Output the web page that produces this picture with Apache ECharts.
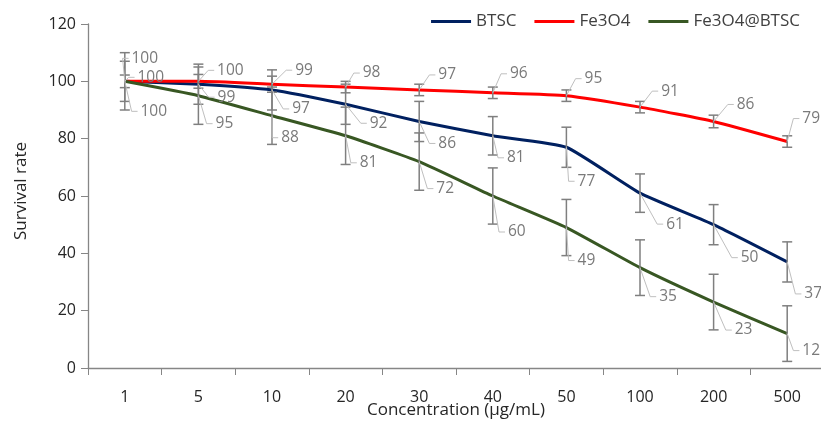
<!DOCTYPE html>
<html>
<head>
<meta charset="utf-8">
<script src="https://cdn.jsdelivr.net/npm/echarts@6/dist/echarts.min.js"></script>
<style>html,body{margin:0;padding:0;background:#fff;}#c{width:821px;height:423px;}</style>
</head>
<body>
<div id="c"></div>
<script>
// ---- data ----
const categories = ['1', '5', '10', '20', '30', '40', '50', '100', '200', '500'];
const btsc = [100, 99, 97, 92, 86, 81, 77, 61, 50, 37];
const fe3o4 = [100, 100, 99, 98, 97, 96, 95, 91, 86, 79];
const fe3o4Btsc = [100, 95, 88, 81, 72, 60, 49, 35, 23, 12];
const btscErr = [7, 7, 7, 7, 7, 6.7, 7, 6.7, 7, 7];
const fe3o4Err = [2.2, 2.4, 2.8, 2, 2, 2, 2, 2, 2.2, 2];
const fe3o4BtscErr = [10, 10, 10, 10, 10, 9.8, 9.8, 9.7, 9.7, 9.7];
const yMin = 0, yMax = 120, yStep = 20;
const xTitle = 'Concentration (μg/mL)';
const yTitle = 'Survival rate';

// ---- label placement (style, pixel offsets from point) ----
const fe3o4LabelOff = [[20,-23],[32,-11],[32,-14],[26,-14],[28,-15],[26,-19],[27,-17],[30,-16],[32,-17],[24,-23]];
const btscLabelOff = [[26,-4],[28,13],[29,19],[33,19],[28,22],[23,22],[20,34],[35,31],[36,33],[26,32]];
const fe3o4BtscLabelOff = [[29,30],[26,28],[18,22],[23,27],[26,27],[24,36],[20,33],[28,29],[30,28],[24,17]];

const COL_BLUE = '#002060', COL_RED = '#FF0000', COL_GREEN = '#385723';
const ERR_COL = '#7f7f7f', LBL_COL = '#7a7a7a', LEAD_COL = '#bfbfbf';

function errSeries(values, errs) {
  return {
    type: 'custom', z: 5, silent: true,
    data: values.map((v, i) => [i, v - errs[i], v + errs[i]]),
    renderItem: function (params, api) {
      const lo = api.coord([api.value(0), api.value(1)]);
      const hi = api.coord([api.value(0), api.value(2)]);
      const w = 5;
      const st = { stroke: ERR_COL, lineWidth: 1.5 };
      return { type: 'group', children: [
        { type: 'line', shape: { x1: lo[0], y1: lo[1], x2: hi[0], y2: hi[1] }, style: st },
        { type: 'line', shape: { x1: lo[0] - w, y1: lo[1], x2: lo[0] + w, y2: lo[1] }, style: st },
        { type: 'line', shape: { x1: hi[0] - w, y1: hi[1], x2: hi[0] + w, y2: hi[1] }, style: st }
      ]};
    }
  };
}

function labelSeries(values, offs) {
  return {
    type: 'custom', z: 6, silent: true,
    data: values.map((v, i) => [i, v]),
    renderItem: function (params, api) {
      const i = params.dataIndex;
      const p = api.coord([api.value(0), api.value(1)]);
      const o = offs[i];
      const txt = String(api.value(1));
      const lx = p[0] + o[0], ly = p[1] + o[1];
      const hw = txt.length * 4.4;
      const children = [{
        type: 'text',
        style: { text: txt, x: lx, y: ly, align: 'center', verticalAlign: 'middle',
                 fill: LBL_COL, font: '15.5px "Open Sans", sans-serif' }
      }];
      const dist = Math.hypot(o[0], o[1]);
      if (dist > 24) {
        const ex = lx - hw - 3;
        children.push({
          type: 'polyline',
          shape: { points: [[p[0], p[1]], [ex - 6, ly], [ex, ly]] },
          style: { stroke: LEAD_COL, lineWidth: 1, fill: null }
        });
      }
      return { type: 'group', children: children };
    }
  };
}

const chart = echarts.init(document.getElementById('c'), null, { renderer: 'canvas' });
chart.setOption({
  animation: false,
  backgroundColor: '#ffffff',
  grid: { left: 88, top: 24, bottom: 55, width: 736, containLabel: false, outerBoundsMode: 'none' },
  legend: {
    data: ['BTSC', 'Fe3O4', 'Fe3O4@BTSC'],
    top: 8, right: 16,
    itemWidth: 40, itemHeight: 3, itemGap: 18,
    icon: 'rect',
    textStyle: { color: '#404040', fontSize: 17, fontFamily: '"Open Sans", sans-serif' }
  },
  graphic: [{
    type: 'text', left: 467 - 100, top: 402, z: 10,
    style: { text: xTitle, fill: '#262626', font: '17px "Open Sans", sans-serif', width: 200, align: 'center' },
    silent: true
  }],
  xAxis: {
    type: 'category', data: categories, boundaryGap: true,
    axisLine: { lineStyle: { color: '#868686', width: 1.3 } },
    axisTick: { show: true, alignWithLabel: false, length: 7, lineStyle: { color: '#868686' } },
    axisLabel: { color: '#262626', fontSize: 16, margin: 21, fontFamily: '"Open Sans", sans-serif' }
  },
  yAxis: {
    type: 'value', min: yMin, max: yMax, interval: yStep,
    splitLine: { show: false },
    axisLine: { show: true, lineStyle: { color: '#868686', width: 1.3 } },
    axisTick: { show: true, length: 7, lineStyle: { color: '#868686' } },
    axisLabel: { color: '#262626', fontSize: 16, margin: 12, fontFamily: '"Open Sans", sans-serif' },
    name: yTitle, nameLocation: 'middle', nameGap: 58, nameRotate: 90,
    nameTextStyle: { color: '#262626', fontSize: 17, fontFamily: '"Open Sans", sans-serif', padding: [0, 0, 0, 10] }
  },
  series: [
    { name: 'BTSC', type: 'line', data: btsc, smooth: 0.15, symbol: 'none', z: 3,
      lineStyle: { color: COL_BLUE, width: 3 }, itemStyle: { color: COL_BLUE } },
    { name: 'Fe3O4', type: 'line', data: fe3o4, smooth: 0.15, symbol: 'none', z: 3,
      lineStyle: { color: COL_RED, width: 3 }, itemStyle: { color: COL_RED } },
    { name: 'Fe3O4@BTSC', type: 'line', data: fe3o4Btsc, smooth: 0.15, symbol: 'none', z: 3,
      lineStyle: { color: COL_GREEN, width: 3 }, itemStyle: { color: COL_GREEN } },
    errSeries(btsc, btscErr),
    errSeries(fe3o4, fe3o4Err),
    errSeries(fe3o4Btsc, fe3o4BtscErr),
    labelSeries(fe3o4, fe3o4LabelOff),
    labelSeries(btsc, btscLabelOff),
    labelSeries(fe3o4Btsc, fe3o4BtscLabelOff)
  ]
});
</script>
</body>
</html>
